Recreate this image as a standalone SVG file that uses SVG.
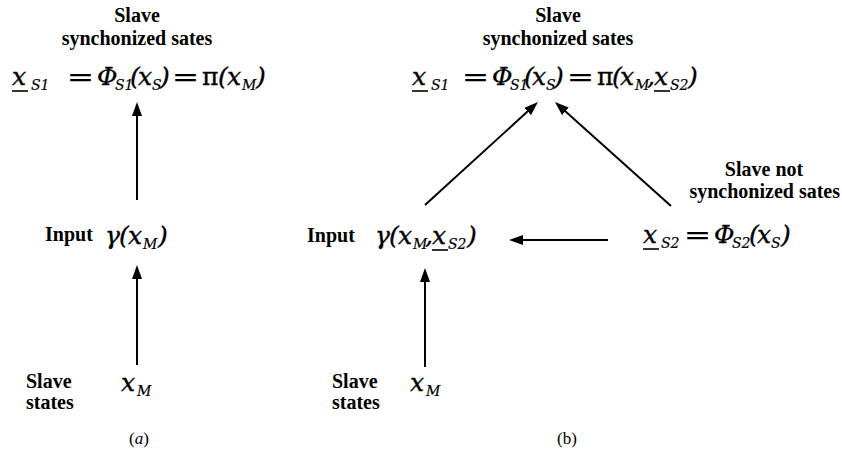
<svg xmlns="http://www.w3.org/2000/svg" width="842" height="452" viewBox="0 0 842 452">
<style>
.lbl{font-family:"Liberation Serif","Times New Roman",serif;font-weight:bold;font-size:20px;fill:#000}
.m{font-family:"DejaVu Serif","Liberation Serif",serif;font-style:italic;font-size:25px;fill:#000;stroke:#000;stroke-width:0.35}
.sub{font-size:14px;stroke-width:0.2}
.up{font-style:normal}
.cap{font-family:"Liberation Serif","Times New Roman",serif;font-size:17px;fill:#000}
.ul{stroke:#000;stroke-width:1.6}
.conn line{stroke:#000;stroke-width:2}
</style>
<defs>
<marker id="ah" viewBox="0 0 14 10" refX="2" refY="5" markerWidth="14" markerHeight="10" markerUnits="userSpaceOnUse" orient="auto">
<path d="M0,0 L14,5 L0,10 Z" fill="#000"/>
</marker>
</defs>

<!-- (a) -->
<g id="a-sync">
<text class="lbl" x="137" y="22" text-anchor="middle">Slave</text>
<text class="lbl" x="137" y="45" text-anchor="middle">synchonized sates</text>
<text class="m" y="85"><tspan x="12">x</tspan><tspan class="sub" x="31" y="90">S1</tspan><tspan x="67" y="85" textLength="27" lengthAdjust="spacingAndGlyphs">=</tspan><tspan x="97">Φ</tspan><tspan class="sub" x="115" y="90">S1</tspan><tspan x="130" y="85">(</tspan><tspan x="138">x</tspan><tspan class="sub" x="152" y="90">S</tspan><tspan x="160" y="85">)</tspan><tspan x="172" textLength="27" lengthAdjust="spacingAndGlyphs">=</tspan><tspan class="up" x="202">π</tspan><tspan x="218">(</tspan><tspan x="227">x</tspan><tspan class="sub" x="242" y="90">M</tspan><tspan x="256" y="85">)</tspan></text>
<line class="ul" x1="12" y1="91" x2="28" y2="91"/>
</g>
<g id="a-input">
<text class="lbl" x="45" y="241" font-size="19">Input</text>
<text class="m" y="244"><tspan x="105">γ</tspan><tspan x="119">(</tspan><tspan x="128">x</tspan><tspan class="sub" x="143" y="249">M</tspan><tspan x="158" y="244">)</tspan></text>
</g>
<g id="a-states">
<text class="lbl" x="26" y="388">Slave</text>
<text class="lbl" x="26" y="409">states</text>
<text class="m" y="391"><tspan x="121">x</tspan><tspan class="sub" x="137" y="396">M</tspan></text>
</g>
<text class="cap" x="139" y="444" text-anchor="middle">(<tspan font-style="italic">a</tspan>)</text>

<!-- (b) -->
<g id="b-sync">
<text class="lbl" x="558" y="22" text-anchor="middle">Slave</text>
<text class="lbl" x="558" y="45" text-anchor="middle">synchonized sates</text>
<text class="m" y="85"><tspan x="412">x</tspan><tspan class="sub" x="431" y="90">S1</tspan><tspan x="462" y="85" textLength="27" lengthAdjust="spacingAndGlyphs">=</tspan><tspan x="492">Φ</tspan><tspan class="sub" x="510" y="90">S1</tspan><tspan x="524" y="85">(</tspan><tspan x="532">x</tspan><tspan class="sub" x="546" y="90">S</tspan><tspan x="554" y="85">)</tspan><tspan x="567" textLength="27" lengthAdjust="spacingAndGlyphs">=</tspan><tspan class="up" x="597">π</tspan><tspan x="612">(</tspan><tspan x="620">x</tspan><tspan class="sub" x="635" y="90">M</tspan><tspan x="647" y="85">,</tspan><tspan x="654">x</tspan><tspan class="sub" x="670" y="90">S2</tspan><tspan x="688" y="85">)</tspan></text>
<line class="ul" x1="412" y1="91" x2="428" y2="91"/>
<line class="ul" x1="654" y1="91" x2="670" y2="91"/>
</g>
<g id="b-notsync">
<text class="lbl" x="764" y="176" text-anchor="middle">Slave not</text>
<text class="lbl" x="840" y="198" text-anchor="end">synchonized sates</text>
<text class="m" y="243"><tspan x="643">x</tspan><tspan class="sub" x="661" y="248">S2</tspan><tspan x="684" y="243" textLength="27" lengthAdjust="spacingAndGlyphs">=</tspan><tspan x="714">Φ</tspan><tspan class="sub" x="732" y="248">S2</tspan><tspan x="749" y="243">(</tspan><tspan x="757">x</tspan><tspan class="sub" x="771" y="248">S</tspan><tspan x="781" y="243">)</tspan></text>
<line class="ul" x1="643" y1="249" x2="659" y2="249"/>
</g>
<g id="b-input">
<text class="lbl" x="307" y="242" font-size="19">Input</text>
<text class="m" y="244"><tspan x="375">γ</tspan><tspan x="389">(</tspan><tspan x="398">x</tspan><tspan class="sub" x="413" y="249">M</tspan><tspan x="425" y="244">,</tspan><tspan x="432">x</tspan><tspan class="sub" x="448" y="249">S2</tspan><tspan x="467" y="244">)</tspan></text>
<line class="ul" x1="432" y1="250" x2="448" y2="250"/>
</g>
<g id="b-states">
<text class="lbl" x="332" y="388">Slave</text>
<text class="lbl" x="332" y="409">states</text>
<text class="m" y="391"><tspan x="410">x</tspan><tspan class="sub" x="426" y="396">M</tspan></text>
</g>
<text class="cap" x="567" y="444" text-anchor="middle">(b)</text>

<g id="connectors" class="conn">
<line x1="137" y1="200" x2="137" y2="114" marker-end="url(#ah)"/>
<line x1="137" y1="365" x2="137" y2="277" marker-end="url(#ah)"/>
<line x1="425" y1="205" x2="529.1" y2="110.1" marker-end="url(#ah)"/>
<line x1="671" y1="206" x2="563.9" y2="110" marker-end="url(#ah)"/>
<line x1="608" y1="240" x2="521" y2="240" marker-end="url(#ah)"/>
<line x1="425" y1="367" x2="425" y2="280" marker-end="url(#ah)"/>
</g>
</svg>
